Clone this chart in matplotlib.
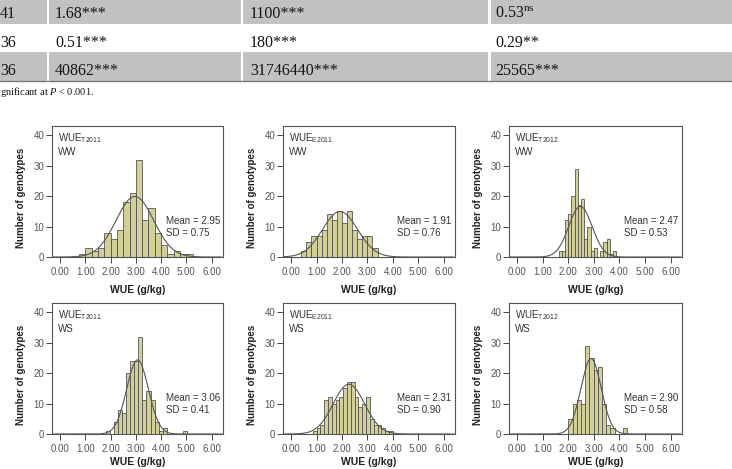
import numpy as np
import matplotlib
matplotlib.use("Agg")
import matplotlib.pyplot as plt
from matplotlib.patches import Rectangle

plt.rcParams["font.family"] = "Liberation Sans"
plt.rcParams["mathtext.fontset"] = "custom"
plt.rcParams["mathtext.rm"] = "Liberation Serif"
plt.rcParams["mathtext.sf"] = "Liberation Sans"
plt.rcParams["mathtext.it"] = "Liberation Serif:italic"

# ── table fragment at the top ─────────────────────────────
tab_col0 = ["41", "36", "36"]
tab_col1 = ["1.68***", "0.51***", "40862***"]
tab_col2 = ["1100***", "180***", "31746440***"]
tab_col3 = ["0.53$^{\\mathrm{ns}}$", "0.29**", "25565***"]
tab_note = "gnificant at $\\mathit{P}$ < 0.001."

# ── histogram panels ──────────────────────────────────────
panel_trait = ["T2011", "E2011", "T2012", "T2011", "E2011", "T2012"]
panel_treat = ["WW", "WW", "WW", "WS", "WS", "WS"]
panel_mean = ["2.95", "1.91", "2.47", "3.06", "2.31", "2.90"]
panel_sd = ["0.75", "0.76", "0.53", "0.41", "0.90", "0.58"]

bin_start = [0.75, 0.40, 1.625, 1.82, 0.85, 2.00]
bin_width = [0.25, 0.20, 0.125, 0.16, 0.15, 0.165]

counts_t2011_ww = [1, 3, 2, 3, 8, 6, 9, 18, 21, 32, 12, 16, 8, 4, 1, 2, 1, 1]
counts_e2011_ww = [2, 5, 7, 7, 9, 14, 12, 15, 11, 15, 9, 6, 7, 7, 3]
counts_t2012_ww = [2, 2, 12, 14, 20, 29, 17, 19, 6, 10, 2, 3, 0, 2, 5, 6, 1, 2]
counts_t2011_ws = [1, 0, 4, 8, 7, 20, 24, 24, 32, 11, 14, 11, 4, 1, 2, 0, 0, 0, 0, 1]
counts_e2011_ws = [1, 2, 3, 11, 12, 10, 11, 12, 15, 17, 17, 12, 9, 10, 12, 5, 3, 3, 2, 1, 1]
counts_t2012_ws = [5, 10, 11, 10, 29, 25, 21, 22, 10, 3, 2, 0, 0, 2]

all_counts = [counts_t2011_ww, counts_e2011_ww, counts_t2012_ww,
              counts_t2011_ws, counts_e2011_ws, counts_t2012_ws]

W, H = 732, 469
fig = plt.figure(figsize=(W / 100, H / 100), dpi=100)
fig.patch.set_facecolor("white")


def px_axes(left, top, right, bottom):
    return fig.add_axes([left / W, 1 - bottom / H, (right - left) / W, (bottom - top) / H])


# table
tab = fig.add_axes([0, 0, 1, 1])
tab.set_xlim(0, W)
tab.set_ylim(H, 0)
tab.axis("off")
row_top = [0, 24, 52]
row_bot = [24, 52, 81]
row_gray = [True, False, True]
cell_x = [(0, 47), (49, 241), (243, 488), (491, W)]
for rt, rb, g in zip(row_top, row_bot, row_gray):
    if g:
        for x0, x1 in cell_x:
            tab.add_patch(Rectangle((x0, rt), x1 - x0, rb - rt,
                                    facecolor="#c2c2c2", edgecolor="none"))
tab.plot([0, W], [81, 81], color="#7a7a7a", lw=1.0)
text_x = [0, 55, 250, 495]
base_y = [18, 47, 75]
for i in range(3):
    for x, col in zip(text_x, [tab_col0, tab_col1, tab_col2, tab_col3]):
        tab.text(x, base_y[i], col[i], family="Liberation Serif", fontsize=11.5,
                 color="#151515", va="baseline", ha="left")
tab.text(0, 95, tab_note, family="Liberation Serif", fontsize=7.5,
         color="#151515", va="baseline", ha="left")

# panels
col_l = [52, 283, 509]
col_r = [223, 455, 682]
row_t = [126, 303]
row_b = [257, 434]
xlab_off = [28, 23]
bar_color = "#d3cf98"
txt_color = "#333333"

for k in range(6):
    r, c = divmod(k, 3)
    ax = px_axes(col_l[c], row_t[r], col_r[c], row_b[r])
    counts = np.array(all_counts[k], dtype=float)
    w = bin_width[k]
    edges = bin_start[k] + w * np.arange(len(counts))
    ax.bar(edges, counts, width=w, align="edge", color=bar_color,
           edgecolor="#4a4a4a", linewidth=0.55, zorder=2)

    # normal curve fitted to the histogram
    centers = edges + w / 2
    n = counts.sum()
    m = (counts * centers).sum() / n
    s = np.sqrt((counts * (centers - m) ** 2).sum() / n)
    xs = np.linspace(-0.3, 6.4, 400)
    ys = n * w * np.exp(-0.5 * ((xs - m) / s) ** 2) / (s * np.sqrt(2 * np.pi))
    ax.plot(xs, ys, color="#555555", lw=0.8, zorder=3)

    ax.set_xlim(-0.32, 6.45)
    ax.set_ylim(0, 43)
    ax.set_xticks(np.arange(0, 7))
    ax.set_xticklabels(["%.2f" % v for v in range(7)])
    ax.set_yticks([0, 10, 20, 30, 40])
    ax.tick_params(axis="both", labelsize=7, colors="#444444", labelcolor="#555555",
                   length=4, width=0.7)
    ax.tick_params(axis="x", pad=3)
    ax.tick_params(axis="y", pad=1.5)
    for sp in ax.spines.values():
        sp.set_color("#555555")
        sp.set_linewidth(0.8)

    ax.text(6 / 171, 1 - 12 / 131, "WUE$_{\\mathsf{%s}}$" % panel_trait[k],
            transform=ax.transAxes, fontsize=7, color=txt_color, va="center")
    ax.text(6 / 171, 1 - 26 / 131, panel_treat[k],
            transform=ax.transAxes, fontsize=7, color=txt_color, va="center")
    ax.text(0.665, 0.272, "Mean = " + panel_mean[k], transform=ax.transAxes,
            fontsize=7, color=txt_color, va="center")
    ax.text(0.665, 0.184, "SD = " + panel_sd[k], transform=ax.transAxes,
            fontsize=7, color=txt_color, va="center")

    ax.set_ylabel("Number of genotypes", fontsize=7, fontweight="bold", color="#222222")
    ax.yaxis.set_label_coords(-26 / 171, 0.45)
    ax.set_xlabel("WUE (g/kg)", fontsize=7.5, fontweight="bold", color="#222222")
    ax.xaxis.set_label_coords(0.5, -xlab_off[r] / 131)

fig.savefig("out.png", dpi=100, facecolor="white")
